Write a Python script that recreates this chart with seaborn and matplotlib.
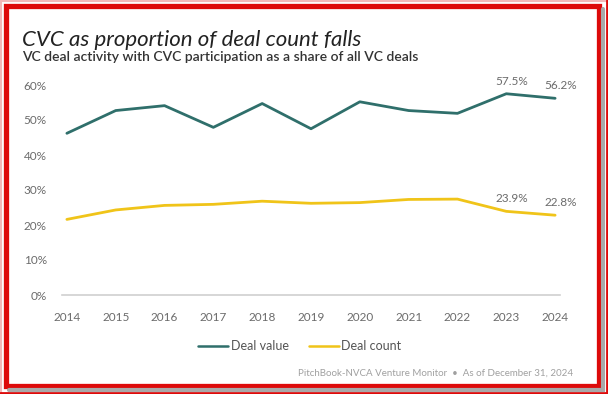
import matplotlib
matplotlib.use("Agg")
import matplotlib.pyplot as plt
from matplotlib.patches import Rectangle
from matplotlib.lines import Line2D
import pandas as pd
import seaborn as sns

# data
years = [2014, 2015, 2016, 2017, 2018, 2019, 2020, 2021, 2022, 2023, 2024]
deal_value = [46.2, 52.7, 54.1, 47.9, 54.7, 47.5, 55.2, 52.7, 51.9, 57.5, 56.2]
deal_count = [21.6, 24.3, 25.6, 25.9, 26.8, 26.2, 26.4, 27.3, 27.4, 23.9, 22.8]
y_ticks = [0, 10, 20, 30, 40, 50, 60]

teal = "#2f6f6b"
yellow = "#f0c419"
grey_txt = "#6b6b6b"

sns.set_theme(style="white")
plt.rcParams['font.family'] = ['Lato', 'DejaVu Sans']

df = pd.DataFrame({"year": years + years,
                   "share": deal_value + deal_count,
                   "series": ["Deal value"] * len(years) + ["Deal count"] * len(years)})

fig = plt.figure(figsize=(6.08, 3.94), dpi=100)
ax = fig.add_axes([62 / 608, 99 / 394, 498 / 608, 210 / 394])

sns.lineplot(data=df, x="year", y="share", hue="series",
             palette={"Deal value": teal, "Deal count": yellow},
             linewidth=2, legend=False, ax=ax)

ax.set_xlim(2013.9, 2024.1)
ax.set_ylim(0, 60)
ax.set_xticks(years)
ax.set_yticks(y_ticks)
ax.set_yticklabels([f"{t}%" for t in y_ticks])
ax.set_xlabel("")
ax.set_ylabel("")
ax.tick_params(axis="both", length=0, labelsize=8.5, labelcolor=grey_txt)
ax.tick_params(axis="y", pad=11)
ax.tick_params(axis="x", pad=12)
for s in ["top", "right", "left"]:
    ax.spines[s].set_visible(False)
ax.spines["bottom"].set_color("#d0d0d0")
ax.spines["bottom"].set_linewidth(1.2)

# end labels
for series in (deal_value, deal_count):
    for i in (-2, -1):
        ax.annotate(f"{series[i]}%", (years[i], series[i]), xytext=(4, 5),
                    textcoords="offset points", ha="center", va="bottom",
                    fontsize=8.5, color=grey_txt, annotation_clip=False)

# legend
handles = [Line2D([], [], color=teal, lw=1.8), Line2D([], [], color=yellow, lw=1.8)]
fig.legend(handles, ["Deal value", "Deal count"], loc="center",
           bbox_to_anchor=(300 / 608, 1 - 346 / 394), ncol=2, frameon=False,
           fontsize=9, handlelength=2.4, handletextpad=0.2, columnspacing=1.6,
           labelcolor="#555555")

# titles and source
fig.text(22 / 608, 1 - 40 / 394, "CVC as proportion of deal count falls",
         fontsize=16, style="italic", color="#222222", va="center")
fig.text(22 / 608, 1 - 57 / 394, "VC deal activity with CVC participation as a share of all VC deals",
         fontsize=10, weight="semibold", color="#333333", va="center")
fig.text(573 / 608, 1 - 373 / 394,
         "PitchBook-NVCA Venture Monitor  \u2022  As of December 31, 2024",
         fontsize=7, color="#a0a0a0", ha="right", va="center")

# frame: pink outer edge, red border with a grey drop shadow
W, H = 608, 394
def fx(px):
    return px / W
def fy(py):
    return 1 - py / H

fig.add_artist(Line2D([fx(1), fx(1)], [fy(0), fy(394)], color="#f2b8b8", lw=1.5))
fig.add_artist(Line2D([fx(0), fx(608)], [fy(1), fy(1)], color="#f2b8b8", lw=1.5))
fig.add_artist(Line2D([fx(606.5), fx(606.5)], [fy(0), fy(394)], color="#dd0a0a", lw=2))
fig.add_artist(Line2D([fx(0), fx(608)], [fy(393), fy(393)], color="#dd0a0a", lw=2))
# shadow only along right and bottom
fig.add_artist(Line2D([fx(602.5), fx(602.5), fx(9)], [fy(9), fy(389.5), fy(389.5)],
                      color="#a9a9a9", lw=3, solid_joinstyle="miter"))
fig.patches.append(Rectangle((fx(5.5), fy(385.5)), fx(593), 380 / H, transform=fig.transFigure,
                             fill=False, edgecolor="#dd0a0a", lw=3.8))

fig.savefig("out.png", dpi=100)
